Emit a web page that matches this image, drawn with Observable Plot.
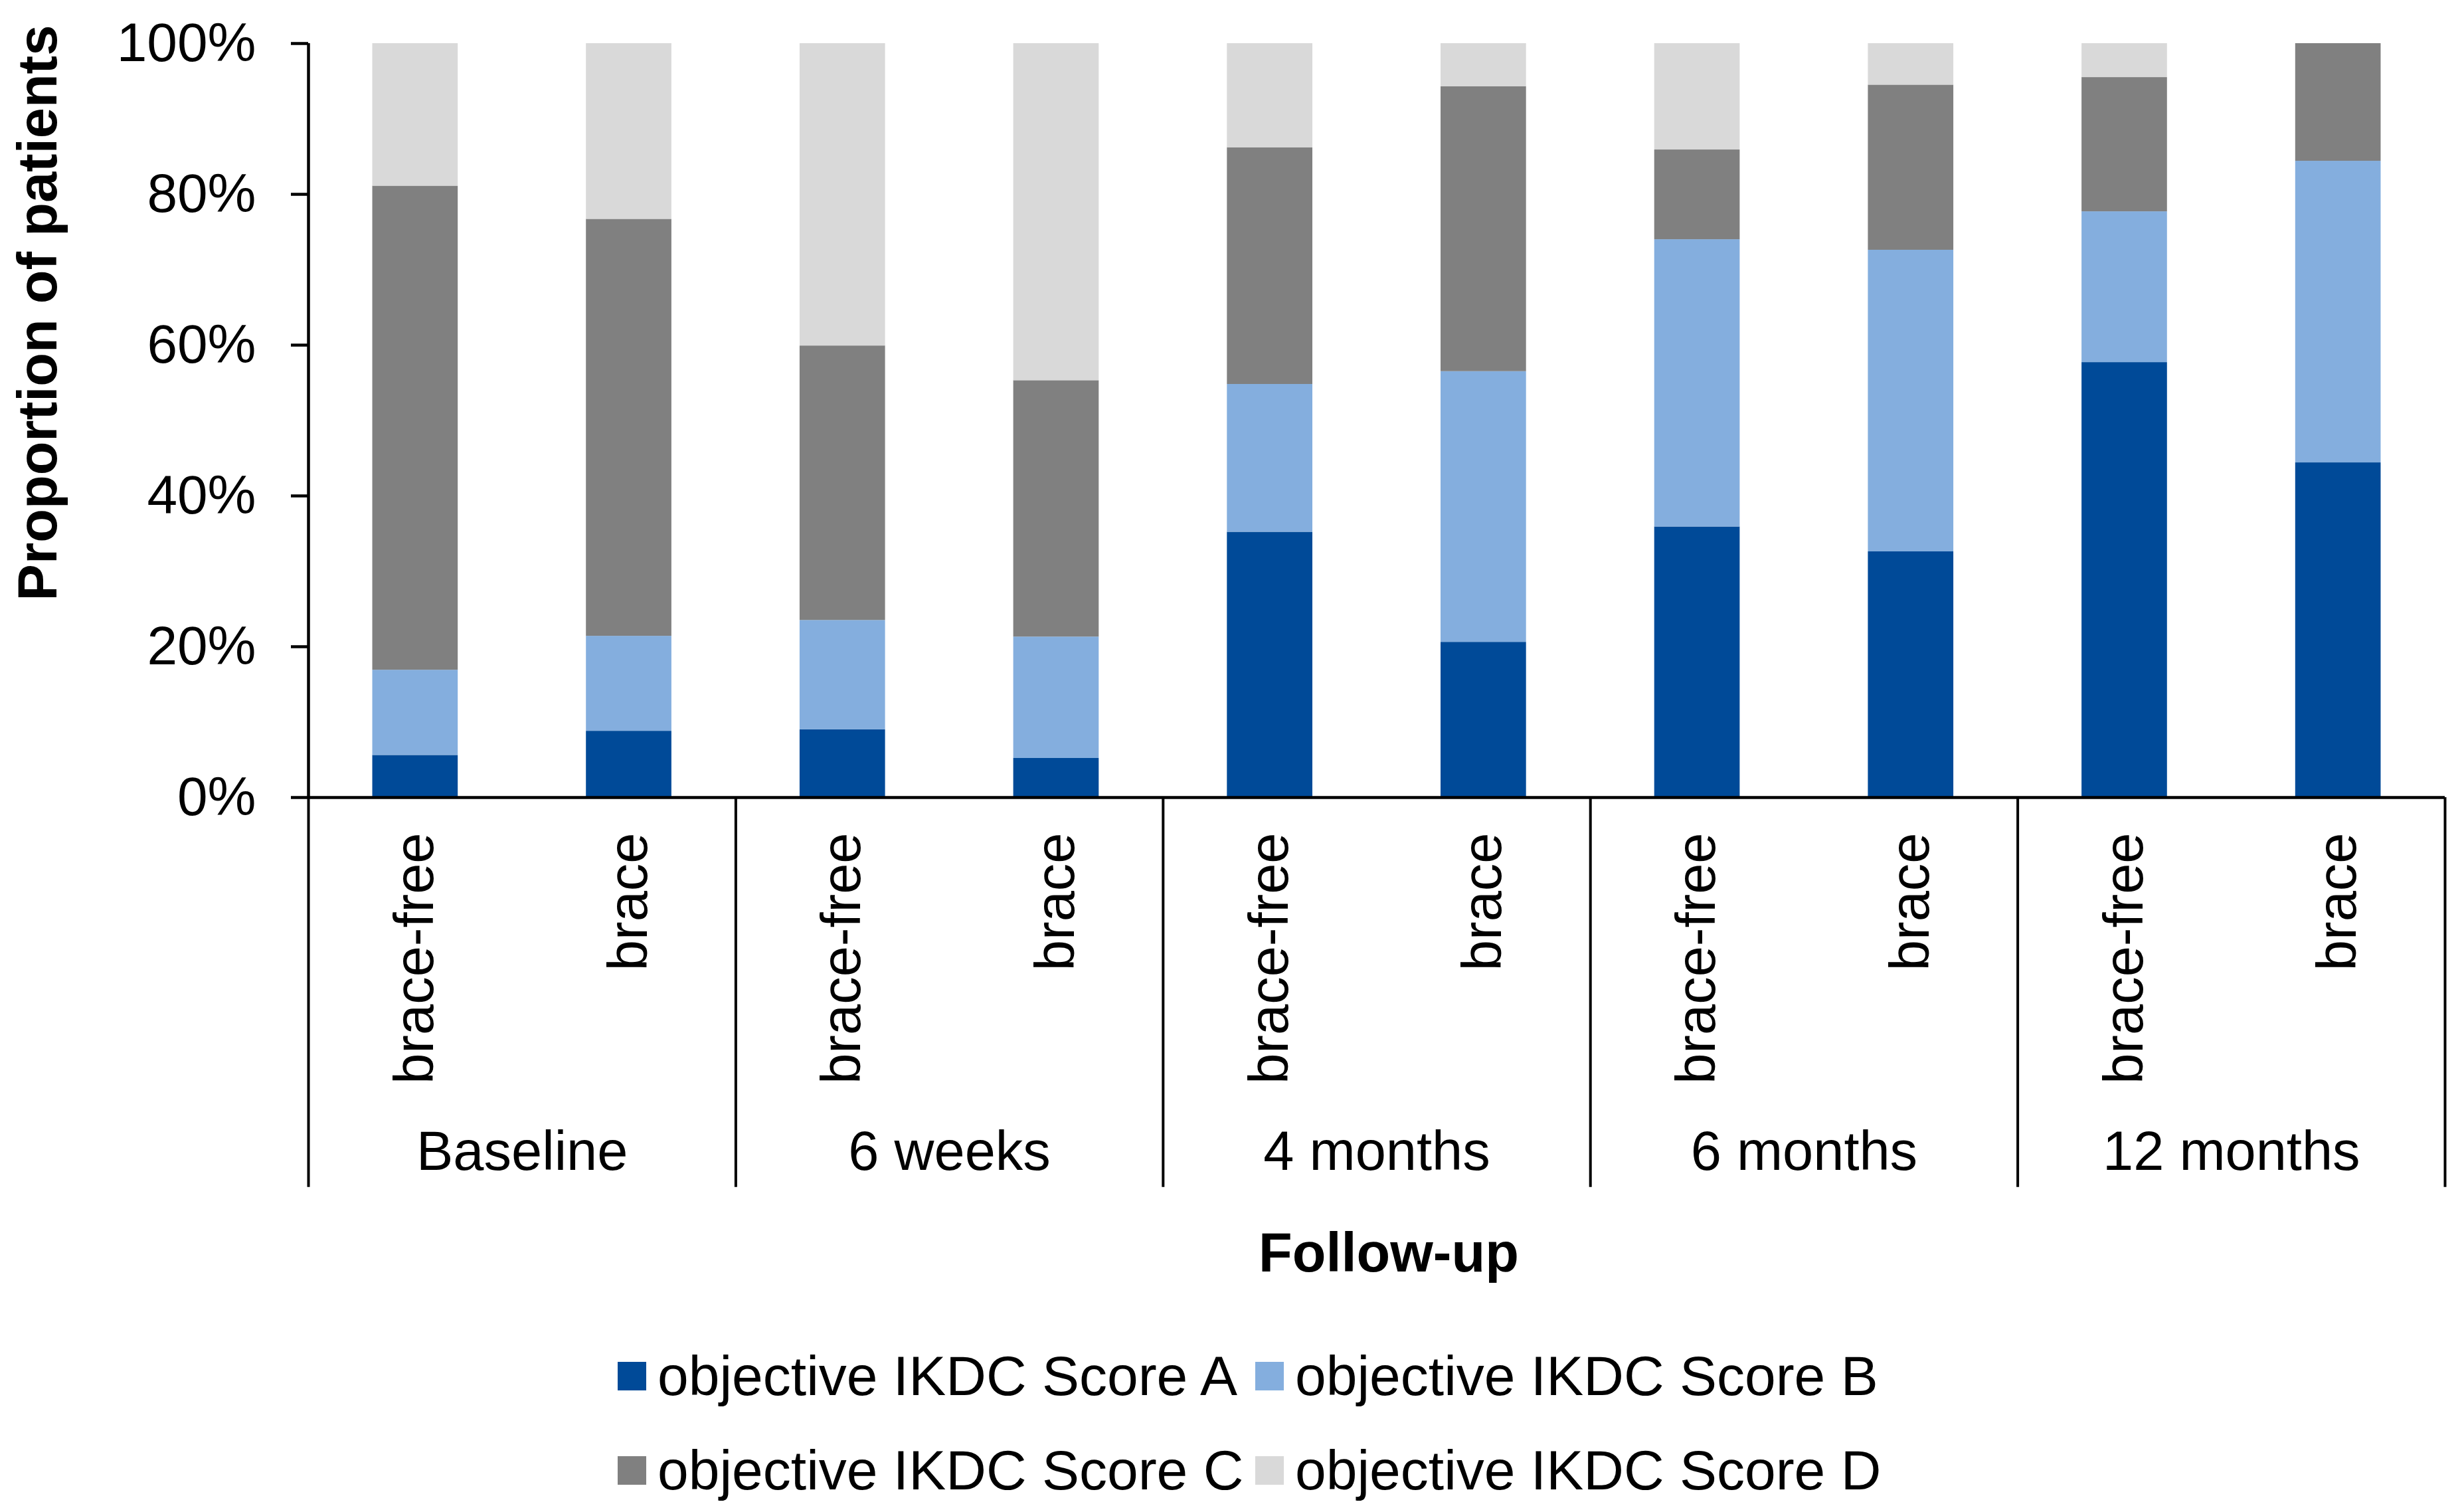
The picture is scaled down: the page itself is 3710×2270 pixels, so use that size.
<!DOCTYPE html>
<html>
<head>
<meta charset="utf-8">
<script src="https://cdn.jsdelivr.net/npm/d3@7"></script>
<script src="https://cdn.jsdelivr.net/npm/@observablehq/plot@0.6"></script>
<style>
  html, body { margin: 0; padding: 0; background: #fff; }
  body { width: 3710px; height: 2270px; overflow: hidden; font-family: "Liberation Sans", Arial, sans-serif; }
  #legend {
    width: 3710px; height: 310px; box-sizing: border-box;
    padding-top: 40px; padding-left: 930px;
    display: grid; grid-template-columns: 960px 960px; grid-auto-rows: 142px;
    font-size: 84px; color: #000;
  }
  .item { display: flex; align-items: center; white-space: nowrap; }
  .sw { width: 43px; height: 43px; margin-right: 17px; flex: none; }
</style>
</head>
<body>
<div id="chart"></div>
<div id="legend"></div>
<script>
// ---- data (percent of patients) ----
const groups = ["Baseline", "6 weeks", "4 months", "6 months", "12 months"];
const treatments = ["brace-free", "brace"];
const scores = ["objective IKDC Score A", "objective IKDC Score B", "objective IKDC Score C", "objective IKDC Score D"];
// one value per bar, ordered Baseline brace-free, Baseline brace, 6 weeks brace-free, ...
const scoreA = [5.6, 8.8, 9.0, 5.2, 35.2, 20.6, 35.9, 32.6, 57.7, 44.4];
const scoreB = [11.3, 12.6, 14.5, 16.1, 19.6, 35.9, 38.1, 40.0, 20.0, 40.0];
const scoreC = [64.2, 55.3, 36.4, 34.0, 31.4, 37.8, 11.9, 21.9, 17.8, 15.6];
const scoreD = [18.9, 23.3, 40.1, 44.7, 13.8, 5.7, 14.1, 5.5, 4.5, 0.0];
const yTicks = [0, 20, 40, 60, 80, 100];
const colors = ["#004a98", "#84aede", "#808080", "#d9d9d9"];
const yLabel = "Proportion of patients";
const xLabel = "Follow-up";

// ---- layout ----
const W = 3710, H = 1960;
const mL = 464, mR = 29, mT = 65, mB = 760;
const nBars = groups.length * treatments.length;
const step = (W - mL - mR) / nBars;
const inset = step * 0.3;
const dividerBottom = -51.7; // in % units, extends below the baseline
const lw = 4.5;

const series = [scoreA, scoreB, scoreC, scoreD];
const rows = [];
const bars = [];
groups.forEach((g, gi) => treatments.forEach((t, ti) => {
  const pos = gi * treatments.length + ti;
  bars.push({pos, group: g, treatment: t});
  series.forEach((s, si) => rows.push({pos, group: g, treatment: t, score: scores[si], value: s[pos]}));
}));
const boundaries = d3.range(groups.length + 1).map(i => i * treatments.length);

const chart = Plot.plot({
  width: W, height: H,
  marginLeft: mL, marginRight: mR, marginTop: mT, marginBottom: mB,
  style: {fontFamily: "'Liberation Sans', Arial, sans-serif", fontSize: "82px", color: "#000", background: "#fff", overflow: "visible"},
  x: {domain: [0, nBars], axis: null},
  y: {domain: [0, 100], axis: null},
  color: {domain: scores, range: colors},
  marks: [
    Plot.rectY(rows, {x1: "pos", x2: d => d.pos + 1, y: "value", fill: "score", insetLeft: inset, insetRight: inset}),
    Plot.axisY({ticks: yTicks, tickFormat: d => d + "%", tickSize: 26, tickPadding: 53, fontSize: 82, strokeWidth: lw, label: null, stroke: "#000", fill: "#000"}),
    Plot.ruleX([0], {y1: 0, y2: 100, stroke: "#000", strokeWidth: lw}),
    Plot.ruleY([0], {stroke: "#000", strokeWidth: lw}),
    Plot.ruleX(boundaries, {y1: 0, y2: dividerBottom, stroke: "#000", strokeWidth: lw - 0.5}),
    Plot.text(bars, {x: d => d.pos + 0.5, text: "treatment", frameAnchor: "bottom", rotate: -90, textAnchor: "end", lineAnchor: "middle", dy: 53, fontSize: 83, fill: "#000"}),
    Plot.text(groups, {x: (d, i) => i * treatments.length + treatments.length / 2, text: d => d, frameAnchor: "bottom", textAnchor: "middle", lineAnchor: "middle", dy: 534, fontSize: 83, fill: "#000"}),
    Plot.text([yLabel], {frameAnchor: "left", textAnchor: "middle", lineAnchor: "middle", rotate: -90, dx: -406, dy: -162, fontWeight: "bold", fontSize: 83, fill: "#000"}),
    Plot.text([xLabel], {frameAnchor: "bottom", textAnchor: "middle", lineAnchor: "middle", dx: 18, dy: 687, fontWeight: "bold", fontSize: 83, fill: "#000"})
  ]
});
document.getElementById("chart").appendChild(chart);

const legend = document.getElementById("legend");
[0, 1, 2, 3].forEach(i => {
  const item = document.createElement("div");
  item.className = "item";
  const sw = document.createElement("span");
  sw.className = "sw";
  sw.style.background = colors[i];
  const lab = document.createElement("span");
  lab.textContent = scores[i];
  item.appendChild(sw);
  item.appendChild(lab);
  legend.appendChild(item);
});
</script>
</body>
</html>
